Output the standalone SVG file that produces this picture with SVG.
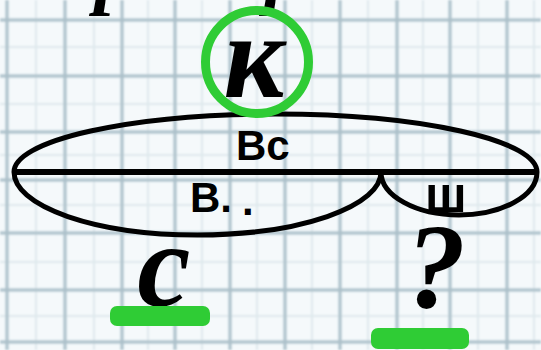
<svg xmlns="http://www.w3.org/2000/svg" width="541" height="350" viewBox="0 0 541 350">
<defs>
<style>
.major{stroke:#aabfc9;stroke-width:3;fill:none}
.minor{stroke:#dfe9ed;stroke-width:2;fill:none}
.arc{stroke:#000;stroke-width:5;fill:none}
.big{font-family:"Liberation Serif",serif;font-weight:bold;font-style:italic;fill:#000}
.lbl{font-family:"Liberation Sans",Arial,sans-serif;font-weight:bold;fill:#000}
.green{fill:#2fcc35}
</style>
<filter id="soft" x="-5%" y="-5%" width="110%" height="110%"><feGaussianBlur stdDeviation="0.8"/></filter>
</defs>
<rect width="541" height="350" fill="#f5f9fb"/>
<g id="grid" filter="url(#soft)">
<path class="minor" d="M36,0V350M94,0V350M148,0V350M202,0V350M257,0V350M312,0V350M368,0V350M423,0V350M478,0V350M534,0V350M0,47H541M0,104H541M0,155H541M0,205H541M0,262H541M0,316H541"/>
<path class="major" d="M7,0V350M65,0V350M122,0V350M175,0V350M230,0V350M285,0V350M340,0V350M397,0V350M450,0V350M507,0V350M0,20H541M0,76H541M0,132H541M0,180H541M0,233H541M0,290H541M0,342H541"/>
</g>
<g id="title">
<text class="big" x="28" y="-1" font-size="78" textLength="510" lengthAdjust="spacing">Проверь себя</text>
</g>
<g id="connectors">
<path class="arc" d="M14,172 A261.5,58 0 0 1 537,172"/>
<path class="arc" d="M14,172 A183.5,63 0 0 0 381,172"/>
<path class="arc" d="M381,172 A78,43 0 0 0 537,172"/>
<path d="M14,172 H537" stroke="#000" stroke-width="6"/>
</g>
<g id="node-k">
<circle cx="257" cy="62" r="51.5" fill="none" stroke="#2fcc35" stroke-width="9"/>
<text class="big" x="254" y="97" font-size="120" text-anchor="middle">к</text>
</g>
<g id="label-vs"><text class="lbl" x="236" y="160" font-size="42">Вс</text></g>
<g id="label-v"><text class="lbl" x="190" y="212" font-size="42">В.<tspan dx="10" dy="3">.</tspan></text></g>
<g id="label-sh"><text class="lbl" x="425" y="212" font-size="50">ш</text></g>
<g id="node-s">
<text class="big" x="164" y="306" font-size="120" text-anchor="middle">с</text>
<rect class="green" x="110" y="306" width="100" height="20" rx="7"/>
</g>
<g id="node-q">
<text class="big" x="436" y="307" font-size="120" text-anchor="middle">?</text>
<rect class="green" x="371" y="328" width="98" height="21" rx="7"/>
</g>
</svg>
